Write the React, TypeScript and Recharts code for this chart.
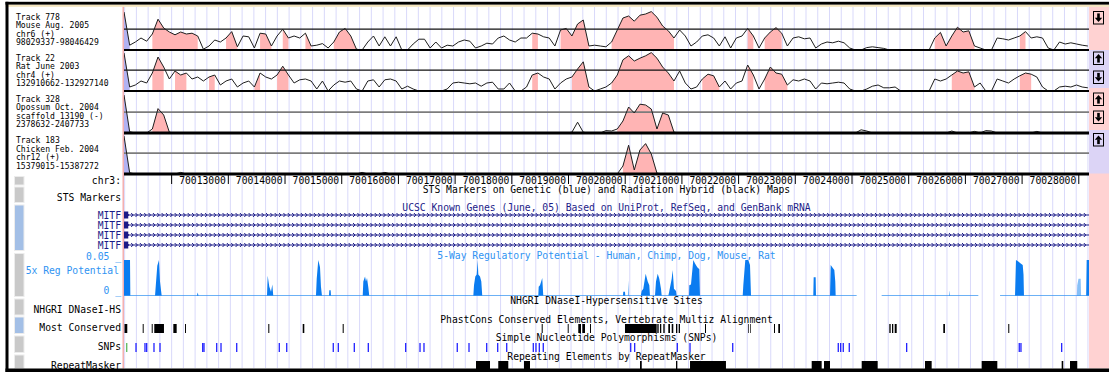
import React from 'react';
import { ComposedChart, Line, Area, XAxis, YAxis, ReferenceLine, ReferenceArea } from 'recharts';

// ---------- layout constants ----------
const W = 1109;
const H = 372;
const ML = 124;
const MR = 20;
const REGION_START = 70011160;
const REGION_END = 70028180;
const BIN = 100;
const THRESHOLD = 0.52;
const GRID_ORIGIN = 70012000;
const GRID_STEP = 207.2;

const MONO = "'DejaVu Sans Mono', 'Liberation Mono', monospace";
const PINK = '#ffb4b4';
const BLUE_FILL = '#b2b2f2';
const GRID = '#d9d9fa';
const NAVY = '#1c1c88';
const REG_BLUE = '#0b7cf0';
const REG_LINE = '#3d98f2';
const REG_LIGHT = '#86c0f8';
const REG_TEXT = '#2f93f2';
const SNP_BLUE = '#2222ff';
const SNP_GREEN = '#5cb85c';

// ---------- conservation tracks (100 bp bins from REGION_START) ----------
const mouseCons = [
  0.95, 0.12, 0.2, 0.3, 0.22, 0.4, 0.77, 0.55, 0.45, 0.38,
  0.45, 0.4, 0.42, 0.35, 0.02, 0.1, 0.25, 0.2, 0.3, 0.46,
  0.08, 0.35, 0.33, 0.05, 0.42, 0.4, 0.1, 0.35, 0.52, 0.3,
  0.35, 0.3, 0.42, 0.1, 0.12, 0.16, 0.05, 0.2, 0.45, 0.54,
  0.35, 0.02, 0, 0.2, 0.35, 0.1, 0.33, 0.1, 0.33, 0,
  0, 0.15, 0.27, 0.27, 0.05, 0.2, 0.05, 0.12, 0.1, 0.2,
  0.25, 0.22, 0.05, 0.1, 0.17, 0.15, 0.3, 0.35, 0.25, 0.2,
  0.3, 0.3, 0.42, 0.4, 0.33, 0.3, 0.1, 0.5, 0.54, 0.35,
  0.65, 0.75, 0.1, 0.12, 0.1, 0.08, 0.2, 0.5, 0.8, 0.85,
  0.72, 0.87, 0.9, 0.96, 0.82, 0.6, 0.48, 0.3, 0.5, 0.35,
  0.1, 0.2, 0.35, 0.38, 0.3, 0.1, 0.33, 0.05, 0.3, 0.35,
  0.54, 0.35, 0.05, 0.3, 0.45, 0.56, 0.42, 0.1, 0.3, 0.33,
  0.28, 0.3, 0.05, 0.15, 0.2, 0.18, 0.22, 0.18, 0.05, 0,
  0, 0.06, 0.08, 0.06, 0.04, 0, 0, 0, 0, 0,
  0, 0, 0, 0.3, 0.44, 0.1, 0.35, 0.57, 0.45, 0.48,
  0.1, 0.05, 0, 0, 0.3, 0.28, 0.25, 0.3, 0.35, 0.46,
  0.3, 0.33, 0.3, 0.05, 0, 0.2, 0.15, 0.18, 0.15, 0.12,
  0.1,
];
const mousePink = [[5, 13], [18, 20], [24, 26], [28, 29], [32, 33], [37, 41], [72, 73], [77, 82], [86, 97], [110, 111], [113, 116], [143, 150], [158, 159]];

const ratCons = [
  0.95, 0.1, 0.15, 0.25, 0.2, 0.45, 0.85, 0.6, 0.3, 0.5,
  0.4, 0.45, 0.3, 0.35, 0.25, 0.35, 0.4, 0.15, 0.25, 0.3,
  0.1, 0.2, 0.25, 0.1, 0.45, 0.35, 0.3, 0.4, 0.62, 0.4,
  0.2, 0.28, 0.3, 0.25, 0.05, 0.25, 0, 0.15, 0.25, 0.22,
  0.25, 0.05, 0, 0.25, 0.28, 0.1, 0.28, 0.3, 0.25, 0.05,
  0.12, 0.05, 0, 0, 0, 0, 0, 0.05, 0.2, 0.22,
  0.2, 0.18, 0.2, 0.12, 0.2, 0.22, 0.05, 0.05, 0.2, 0,
  0, 0.1, 0.4, 0.45, 0.35, 0.3, 0.05, 0.2, 0.3, 0.35,
  0.55, 0.73, 0.1, 0, 0.05, 0.1, 0.2, 0.4, 0.78, 0.88,
  0.75, 0.82, 0.88, 0.96, 0.82, 0.6, 0.45, 0.25, 0.5, 0.2,
  0.05, 0.1, 0.3, 0.42, 0.38, 0.1, 0.25, 0.05, 0.2, 0.25,
  0.65, 0.4, 0.05, 0.3, 0.6, 0.45, 0.42, 0.15, 0.28, 0.25,
  0.3, 0.25, 0.05, 0.2, 0.18, 0.2, 0.22, 0.2, 0.05, 0,
  0, 0.05, 0.12, 0.15, 0.08, 0.08, 0.1, 0, 0, 0,
  0, 0, 0, 0.3, 0.25, 0.3, 0.4, 0.5, 0.45, 0.48,
  0.1, 0.2, 0, 0, 0.3, 0.25, 0.2, 0.3, 0.38, 0.45,
  0.42, 0.35, 0.1, 0, 0, 0.1, 0.12, 0.1, 0.15, 0.1,
  0.08,
];
const ratPink = [[5, 7], [9, 11], [15, 16], [23, 24], [27, 29], [72, 73], [79, 82], [86, 97], [102, 105], [110, 111], [113, 117], [146, 150], [158, 160]];

const opossumCons = [
  0.95, 0.03, 0, 0, 0, 0.1, 0.61, 0.45, 0.02, 0,
  0, 0, 0, 0, 0, 0, 0, 0, 0, 0,
  0, 0, 0, 0, 0, 0, 0, 0, 0, 0,
  0, 0, 0, 0, 0, 0, 0, 0, 0, 0,
  0, 0, 0, 0, 0, 0, 0, 0, 0, 0,
  0, 0, 0, 0, 0, 0, 0, 0, 0, 0,
  0, 0, 0, 0, 0, 0, 0, 0, 0, 0,
  0, 0, 0, 0, 0, 0, 0, 0, 0, 0.02,
  0.27, 0.02, 0, 0, 0, 0.06, 0.05, 0.1, 0.3, 0.65,
  0.5, 0.72, 0.7, 0.6, 0.1, 0.5, 0.45, 0.02, 0, 0,
  0, 0, 0, 0, 0, 0, 0, 0, 0, 0,
  0, 0, 0, 0, 0, 0, 0, 0, 0, 0,
  0, 0, 0, 0, 0, 0, 0, 0, 0, 0,
  0.08, 0.05, 0, 0, 0, 0, 0, 0, 0, 0,
  0, 0, 0, 0, 0, 0, 0.05, 0, 0, 0,
  0.04, 0, 0.06, 0.05, 0, 0, 0, 0, 0, 0,
  0, 0.04, 0, 0, 0, 0, 0, 0, 0, 0,
  0,
];
const opossumPink = [[5, 8], [87, 97]];

const chickenCons = [
  0.95, 0.03, 0, 0, 0, 0, 0, 0, 0, 0,
  0.04, 0, 0, 0, 0, 0, 0, 0, 0, 0,
  0, 0, 0, 0, 0, 0, 0, 0, 0, 0,
  0, 0, 0, 0, 0, 0, 0, 0, 0, 0,
  0, 0, 0.04, 0, 0, 0, 0.04, 0, 0, 0,
  0, 0, 0, 0, 0, 0, 0, 0, 0, 0,
  0, 0, 0, 0, 0, 0, 0, 0, 0, 0,
  0, 0, 0, 0, 0, 0, 0, 0, 0, 0,
  0, 0, 0, 0, 0, 0, 0, 0, 0.2, 0.72,
  0.1, 0.6, 0.76, 0.5, 0.02, 0, 0, 0, 0, 0,
  0, 0, 0, 0, 0, 0, 0, 0, 0, 0,
  0, 0, 0, 0, 0, 0, 0, 0, 0, 0,
  0, 0, 0, 0, 0, 0, 0, 0, 0, 0,
  0, 0, 0, 0, 0, 0, 0, 0, 0, 0,
  0, 0, 0, 0, 0, 0, 0, 0, 0, 0,
  0, 0, 0, 0, 0, 0, 0, 0, 0, 0,
  0, 0, 0, 0, 0, 0, 0, 0, 0, 0,
  0,
];
const chickenPink = [[88, 94]];
const leadingBlue = [[0, 1]];

const trackLabels = [
  ['Track 778', 'Mouse Aug. 2005', 'chr6 (+)', '98029337-98046429'],
  ['Track 22', 'Rat June 2003', 'chr4 (+)', '132910662-132927140'],
  ['Track 328', 'Opossum Oct. 2004', 'scaffold_13190 (-)', '2378632-2407733'],
  ['Track 183', 'Chicken Feb. 2004', 'chr12 (+)', '15379015-15387272'],
];

// ---------- ruler ----------
const axisTicks = [70012000, 70013000, 70014000, 70015000, 70016000, 70017000, 70018000, 70019000, 70020000, 70021000, 70022000, 70023000, 70024000, 70025000, 70026000, 70027000, 70028000];
const axisTickLabels = ['', '70013000', '70014000', '70015000', '70016000', '70017000', '70018000', '70019000', '70020000', '70021000', '70022000', '70023000', '70024000', '70025000', '70026000', '70027000', '70028000'];

// ---------- known genes ----------
const geneNames = ['MITF', 'MITF', 'MITF', 'MITF'];
const geneTxStart = [70011160, 70011160, 70011160, 70011160];
const geneTxEnd = [70028180, 70028180, 70028180, 70028180];
const geneExonEnd = [70011235, 70011235, 70011235, 70011235];

// ---------- 5x regulatory potential: [bp, value] ----------
const regPeaks = [
  [70011160, 0.05], [70011266, 0.05], [70011272, 0],
  [70011707, 0], [70011719, 0.013], [70011747, 0.042], [70011777, 0.05], [70011795, 0.02], [70011825, 0],
  [70012445, 0], [70012460, 0.005], [70012475, 0],
  [70013682, 0], [70013694, 0.028], [70013723, 0.013], [70013753, 0.006], [70013776, 0.016], [70013793, 0],
  [70014546, 0], [70014559, 0.024], [70014587, 0.05], [70014617, 0.04], [70014634, 0.013], [70014652, 0],
  [70014775, 0], [70014781, 0.008], [70014805, 0.008], [70014811, 0],
  [70015370, 0], [70015381, 0.02], [70015411, 0.027], [70015428, 0.02], [70015446, 0.025], [70015469, 0.012], [70015486, 0],
  [70017321, 0], [70017333, 0.015], [70017356, 0.027], [70017381, 0.03], [70017398, 0.05], [70017409, 0.03], [70017439, 0.027], [70017462, 0.02], [70017479, 0],
  [70018467, 0], [70018474, 0.013], [70018497, 0.015], [70018537, 0.025], [70018555, 0],
  [70019960, 0], [70019966, 0.006], [70019996, 0.006], [70020002, 0],
  [70020048, 0], [70020054, 0.022], [70020060, 0],
  [70020273, 0], [70020291, 0.007], [70020319, 0.01], [70020361, 0.031], [70020397, 0.02], [70020425, 0.015], [70020437, 0],
  [70020525, 0], [70020543, 0.02], [70020573, 0.031], [70020601, 0.024], [70020631, 0.01], [70020644, 0],
  [70020760, 0], [70020778, 0.007], [70020820, 0.024], [70020837, 0.036], [70020860, 0.01], [70020896, 0.007], [70020908, 0],
  [70021125, 0], [70021130, 0.015], [70021160, 0.016], [70021201, 0.05], [70021231, 0.045], [70021271, 0.04], [70021307, 0.037], [70021319, 0],
  [70022072, 0], [70022083, 0.015], [70022118, 0.05], [70022171, 0.05], [70022201, 0.043], [70022219, 0],
  [70023317, 0], [70023324, 0.026], [70023359, 0.026], [70023365, 0],
  [70023612, 0], [70023624, 0.043], [70023652, 0.04], [70023688, 0.036], [70023705, 0.02], [70023712, 0],
  [70025710, 0], [70025716, 0.008], [70025722, 0],
  [70026875, 0], [70026892, 0.05], [70026933, 0.048], [70026975, 0.045], [70027011, 0.043], [70027025, 0.03], [70027033, 0],
  [70028130, 0], [70028139, 0.05], [70028180, 0.05],
];
const regLight = [[70027965, 0], [70027973, 0.015], [70027995, 0.024], [70028033, 0.024], [70028040, 0]];
const regCoverage = [[70011160, 70024082], [70024523, 70026228], [70026611, 70028180]];

// ---------- most conserved (PhastCons) blocks ----------
const mostConserved = [
  [70011169, 70011218], [70011490, 70011507], [70011649, 70011666], [70011694, 70011865], [70012030, 70012089],
  [70012236, 70012253], [70013705, 70013723], [70014312, 70014340], [70015017, 70015035], [70018527, 70018545],
  [70018986, 70019003], [70019172, 70019220], [70019243, 70019291], [70019379, 70019396], [70019996, 70020555],
  [70020566, 70020590], [70020613, 70020636], [70020672, 70020696], [70020760, 70020790], [70020820, 70020848],
  [70020896, 70020919], [70020943, 70020966], [70021407, 70021425], [70022171, 70022183], [70022201, 70022213],
  [70022624, 70022642], [70022700, 70022730], [70024658, 70024682], [70024705, 70024728], [70024753, 70024788],
  [70025610, 70025640], [70026756, 70026774],
];

// ---------- SNPs ----------
const snpPositions = [
  70011208, 70011372, 70011530, 70011560, 70011689, 70011795, 70012548, 70012571, 70012795, 70012871,
  70013148, 70013899, 70014030, 70014851, 70014940, 70015222, 70015469, 70016128, 70016381, 70016451,
  70017038, 70017245, 70017557, 70017751, 70017910, 70018379, 70018426, 70018485, 70018555, 70020097,
  70020167, 70020919, 70021143, 70021896, 70023758, 70023800, 70023846, 70023952, 70024964, 70026950,
  70026980, 70027698,
];
const snpClasses = ['coding', ...Array(41).fill('other')];

// ---------- RepeatMasker ----------
const repeats = [
  [70017368, 70017615], [70017761, 70017938], [70018215, 70018321], [70020261, 70020291], [70020896, 70020919],
  [70021143, 70021777], [70023289, 70023465], [70023506, 70023612], [70024171, 70024453], [70025287, 70025405],
  [70026287, 70026563], [70027698, 70027726], [70027845, 70027973],
];

// ---------- helpers ----------
const inRanges = (i: number, ranges: number[][]) => ranges.some(([a, b]) => i >= a && i <= b);
const buildCons = (values: number[], pink: number[][], blue: number[][]) =>
  values.map((v, i) => ({
    x: REGION_START + i * BIN,
    v,
    pink: inRanges(i, pink) ? v : null,
    blue: inRanges(i, blue) ? v : null,
  }));
const domainData = [{ x: REGION_START }, { x: REGION_END }];
const gridPositions = Array.from({ length: 83 }, (_, k) => GRID_ORIGIN + (k - 4) * GRID_STEP);
const regData = regPeaks.map(([x, r]) => ({ x, r }));
const regLightData = regLight.map(([x, r]) => ({ x, r }));
const regBaseData: { x: number; b: number | null }[] = [];
regCoverage.forEach(([s, e]) => {
  regBaseData.push({ x: s, b: 0 }, { x: e, b: 0 }, { x: e + 1, b: null });
});

const XA = () => null;

function xAxis() {
  return <XAxis dataKey="x" type="number" domain={[REGION_START, REGION_END]} hide allowDataOverflow />;
}

function ConsTrack(props: { top: number; values: number[]; pink: number[][]; thrColor: string; thrWidth: number; bottomWidth: number }) {
  const { top, values, pink, thrColor, thrWidth, bottomWidth } = props;
  const pad = 3;
  const data = buildCons(values, pink, leadingBlue);
  return (
    <div style={{ position: 'absolute', left: 0, top: top - pad, width: W, height: 40 + 2 * pad }}>
      <ComposedChart width={W} height={40 + 2 * pad} data={data} margin={{ top: pad, right: MR, bottom: pad, left: ML }}>
        {xAxis()}
        <YAxis type="number" domain={[0, 1]} hide allowDataOverflow />
        <Area type="linear" dataKey="pink" stroke="none" fill={PINK} fillOpacity={1} isAnimationActive={false} />
        <Area type="linear" dataKey="blue" stroke="none" fill={BLUE_FILL} fillOpacity={1} isAnimationActive={false} />
        <ReferenceLine y={THRESHOLD} stroke={thrColor} strokeWidth={thrWidth} />
        <Line type="linear" dataKey="v" stroke="#1e1e1e" strokeWidth={1} dot={false} activeDot={false} isAnimationActive={false} />
        <ReferenceLine y={0} stroke="#000" strokeWidth={bottomWidth} />
      </ComposedChart>
    </div>
  );
}

const IntronShape = (p: any) => {
  const { x, y, width, height } = p;
  const cy = y + height / 2;
  let d = `M${x},${cy}H${x + width}`;
  for (let cx = x + 4; cx < x + width - 1; cx += 4.35) {
    d += `M${cx - 1.2},${cy - 2}L${cx + 0.8},${cy}L${cx - 1.2},${cy + 2}`;
  }
  return <path d={d} stroke={NAVY} strokeWidth={1} fill="none" />;
};

const AxisTick = (p: any) => {
  const { x, payload } = p;
  const idx = axisTicks.indexOf(payload.value);
  const label = idx >= 0 ? axisTickLabels[idx] : '';
  return (
    <g>
      <line x1={x} x2={x} y1={5} y2={14} stroke="#000" strokeWidth={1} />
      <text x={x - 2.5} y={13.5} textAnchor="end" fontFamily={MONO} fontSize={9.7} fill="#000">{label}</text>
    </g>
  );
};

const T = (p: { x: number; y: number; children: React.ReactNode; anchor?: 'start' | 'middle' | 'end'; color?: string; size?: number }) => (
  <text x={p.x} y={p.y} textAnchor={p.anchor || 'start'} fontFamily={MONO} fontSize={p.size || 9.7} fill={p.color || '#000'}>
    {p.children}
  </text>
);

const CENTER = (ML + (W - MR)) / 2;

const leftButtons = [
  { y: 176.5, h: 8.5, c: '#c9c9c9' },
  { y: 187, h: 15.5, c: '#c9c9c9' },
  { y: 205, h: 45.5, c: '#a3bfe6' },
  { y: 253.5, h: 43, c: '#c9c9c9' },
  { y: 299, h: 16, c: '#c9c9c9' },
  { y: 317, h: 16.5, c: '#a3bfe6' },
  { y: 336, h: 16.5, c: '#c9c9c9' },
  { y: 355, h: 13.5, c: '#c9c9c9' },
];
const rightButtons = [
  { y: 11.5, up: false, bg: '#ffd2d2' },
  { y: 52, up: true, bg: '#dcd4f6' },
  { y: 71, up: false, bg: '#dcd4f6' },
  { y: 93, up: true, bg: '#ffd2d2' },
  { y: 111, up: false, bg: '#ffd2d2' },
  { y: 133.5, up: true, bg: '#dcd4f6' },
];

const trackTops = [10, 51, 92.7, 133.5];
const labelTops = [16.7, 58, 99, 140.5];

export default function App() {
  return (
    <div style={{ position: 'absolute', left: 0, top: 0, width: W, height: H, background: '#fff', overflow: 'hidden' }}>
      {/* background chrome */}
      <svg width={W} height={H} style={{ position: 'absolute', left: 0, top: 0 }}>
        <rect x={1089} y={6.5} width={20} height={362} fill="#ffd2d2" />
        <rect x={1089} y={50} width={20} height={38} fill="#dcd4f6" />
        <rect x={1089} y={130} width={20} height={43.5} fill="#dcd4f6" />
        <line x1={123.2} x2={123.2} y1={6.5} y2={368.5} stroke="#f2a2a2" strokeWidth={1.3} />
      </svg>

      {/* guide lines */}
      <div style={{ position: 'absolute', left: 0, top: 7, width: W, height: 361 }}>
        <ComposedChart width={W} height={361} data={domainData} margin={{ top: 0, right: MR, bottom: 0, left: ML }}>
          {xAxis()}
          <YAxis type="number" domain={[0, 1]} hide allowDataOverflow />
          {gridPositions.map((g) => (
            <ReferenceLine key={g} x={g} stroke={GRID} strokeWidth={1} />
          ))}
        </ComposedChart>
      </div>

      {/* conservation tracks */}
      <ConsTrack top={trackTops[0]} values={mouseCons} pink={mousePink} thrColor="#111" thrWidth={1.3} bottomWidth={2} />
      <ConsTrack top={trackTops[1]} values={ratCons} pink={ratPink} thrColor="#111" thrWidth={1.3} bottomWidth={2} />
      <ConsTrack top={trackTops[2]} values={opossumCons} pink={opossumPink} thrColor="#7c7c7c" thrWidth={1.8} bottomWidth={3} />
      <ConsTrack top={trackTops[3]} values={chickenCons} pink={chickenPink} thrColor="#7c7c7c" thrWidth={1.8} bottomWidth={3} />

      {/* ruler */}
      <div style={{ position: 'absolute', left: 0, top: 170, width: W, height: 24 }}>
        <ComposedChart width={W} height={24} data={domainData} margin={{ top: 0, right: MR, bottom: 0, left: ML }}>
          <XAxis
            dataKey="x"
            type="number"
            orientation="top"
            height={20}
            domain={[REGION_START, REGION_END]}
            allowDataOverflow
            ticks={axisTicks}
            interval={0}
            axisLine={false}
            tickLine={false}
            tick={(p: any) => <AxisTick {...p} />}
          />
          <YAxis type="number" domain={[0, 1]} hide allowDataOverflow />
        </ComposedChart>
      </div>

      {/* known genes */}
      <div style={{ position: 'absolute', left: 0, top: 210, width: W, height: 40 }}>
        <ComposedChart width={W} height={40} data={domainData} margin={{ top: 0, right: MR, bottom: 0, left: ML }}>
          {xAxis()}
          <YAxis type="number" domain={[-0.5, 3.5]} reversed hide allowDataOverflow />
          {geneNames.map((g, r) => (
            <ReferenceArea key={'i' + r} x1={geneTxStart[r]} x2={geneTxEnd[r]} y1={r - 0.25} y2={r + 0.25} ifOverflow="visible" shape={IntronShape} />
          ))}
          {geneNames.map((g, r) => (
            <ReferenceArea key={'e' + r} x1={geneTxStart[r]} x2={geneExonEnd[r]} y1={r - 0.36} y2={r + 0.36} ifOverflow="visible" fill={NAVY} fillOpacity={1} stroke="none" />
          ))}
        </ComposedChart>
      </div>

      {/* regulatory potential */}
      <div style={{ position: 'absolute', left: 0, top: 258, width: W, height: 40 }}>
        <ComposedChart width={W} height={40} margin={{ top: 2, right: MR, bottom: 2, left: ML }}>
          {xAxis()}
          <YAxis type="number" domain={[0, 0.05]} hide allowDataOverflow />
          <Line data={regBaseData} type="linear" dataKey="b" stroke={REG_LINE} strokeWidth={1.6} dot={false} activeDot={false} connectNulls={false} isAnimationActive={false} />
          <Area data={regLightData} type="linear" dataKey="r" stroke="none" fill={REG_LIGHT} fillOpacity={1} isAnimationActive={false} />
          <Area data={regData} type="linear" dataKey="r" stroke="none" fill={REG_BLUE} fillOpacity={1} isAnimationActive={false} />
        </ComposedChart>
      </div>

      {/* most conserved */}
      <div style={{ position: 'absolute', left: 0, top: 324, width: W, height: 9 }}>
        <ComposedChart width={W} height={9} data={domainData} margin={{ top: 0, right: MR, bottom: 0, left: ML }}>
          {xAxis()}
          <YAxis type="number" domain={[0, 1]} hide allowDataOverflow />
          {mostConserved.map(([a, b]) => (
            <ReferenceArea key={a} x1={a} x2={b} y1={0} y2={1} fill="#000" fillOpacity={1} stroke="none" ifOverflow="visible" />
          ))}
        </ComposedChart>
      </div>

      {/* SNPs */}
      <div style={{ position: 'absolute', left: 0, top: 342.5, width: W, height: 9 }}>
        <ComposedChart width={W} height={9} data={domainData} margin={{ top: 0, right: MR, bottom: 0, left: ML }}>
          {xAxis()}
          <YAxis type="number" domain={[0, 1]} hide allowDataOverflow />
          {snpPositions.map((s, i) => (
            <ReferenceLine key={s} x={s} stroke={snpClasses[i] === 'coding' ? SNP_GREEN : SNP_BLUE} strokeWidth={1.3} />
          ))}
        </ComposedChart>
      </div>

      {/* RepeatMasker */}
      <div style={{ position: 'absolute', left: 0, top: 361, width: W, height: 8 }}>
        <ComposedChart width={W} height={8} data={domainData} margin={{ top: 0, right: MR, bottom: 0, left: ML }}>
          {xAxis()}
          <YAxis type="number" domain={[0, 1]} hide allowDataOverflow />
          {repeats.map(([a, b]) => (
            <ReferenceArea key={a} x1={a} x2={b} y1={0} y2={1} fill="#000" fillOpacity={1} stroke="none" ifOverflow="visible" />
          ))}
        </ComposedChart>
      </div>

      {/* foreground: labels, titles, buttons, borders */}
      <svg width={W} height={H} style={{ position: 'absolute', left: 0, top: 0, pointerEvents: 'none' }}>
        {trackLabels.map((lines, t) =>
          lines.map((s, k) => (
            <T key={t + '-' + k} x={16} y={labelTops[t] + k * 8.5 + 2.9} size={8.1}>{s}</T>
          ))
        )}

        <T x={121} y={184.2} anchor="end">chr3:</T>
        <T x={121} y={200.5} anchor="end">STS Markers</T>
        {geneNames.map((g, r) => (
          <T key={r} x={121} y={218.5 + r * 10} anchor="end" color={NAVY}>{g}</T>
        ))}
        <T x={121} y={259.5} anchor="end" color={REG_TEXT}>0.05 _</T>
        <T x={119} y={274.2} anchor="end" color={REG_TEXT}>5x Reg Potential</T>
        <T x={121} y={294.2} anchor="end" color={REG_TEXT}>0 _</T>
        <T x={121} y={312.5} anchor="end">NHGRI DNaseI-HS</T>
        <T x={121} y={331.2} anchor="end">Most Conserved</T>
        <T x={121} y={350.2} anchor="end">SNPs</T>
        <T x={121} y={368.5} anchor="end">RepeatMasker</T>

        <T x={CENTER} y={192.5} anchor="middle">STS Markers on Genetic (blue) and Radiation Hybrid (black) Maps</T>
        <T x={CENTER} y={210.8} anchor="middle" color={NAVY}>UCSC Known Genes (June, 05) Based on UniProt, RefSeq, and GenBank mRNA</T>
        <T x={CENTER} y={258.5} anchor="middle" color={REG_TEXT}>5-Way Regulatory Potential - Human, Chimp, Dog, Mouse, Rat</T>
        <T x={CENTER} y={304} anchor="middle">NHGRI DNaseI-Hypersensitive Sites</T>
        <T x={CENTER} y={322.5} anchor="middle">PhastCons Conserved Elements, Vertebrate Multiz Alignment</T>
        <T x={CENTER} y={341.2} anchor="middle">Simple Nucleotide Polymorphisms (SNPs)</T>
        <T x={CENTER} y={359.8} anchor="middle">Repeating Elements by RepeatMasker</T>

        {leftButtons.map((b, i) => (
          <rect key={i} x={14.5} y={b.y} width={9.5} height={b.h} fill={b.c} stroke="#ececec" strokeWidth={1} />
        ))}

        {rightButtons.map((b, i) => {
          const bx = 1093.5;
          const by = b.y;
          return (
            <g key={i}>
              <rect x={bx} y={by} width={10} height={12.5} fill={b.bg} stroke="#000" strokeWidth={1} />
              {b.up ? (
                <g fill="#000">
                  <polygon points={`${bx + 5},${by + 2} ${bx + 1.3},${by + 6.3} ${bx + 8.7},${by + 6.3}`} />
                  <rect x={bx + 3.7} y={by + 6} width={2.6} height={4.6} />
                </g>
              ) : (
                <g fill="#000">
                  <rect x={bx + 3.7} y={by + 1.9} width={2.6} height={4.6} />
                  <polygon points={`${bx + 1.3},${by + 6.2} ${bx + 8.7},${by + 6.2} ${bx + 5},${by + 10.5}`} />
                </g>
              )}
            </g>
          );
        })}

        <rect x={5.5} y={4.5} width={W - 5.5} height={2.3} fill="#f3e4bd" />
        <rect x={5.5} y={1.8} width={W - 5.5} height={2.8} fill="#000" />
        <rect x={5.5} y={1.8} width={3} height={H - 1.8} fill="#000" />
        <rect x={5.5} y={368.5} width={W - 5.5} height={4} fill="#000" />
      </svg>
    </div>
  );
}
